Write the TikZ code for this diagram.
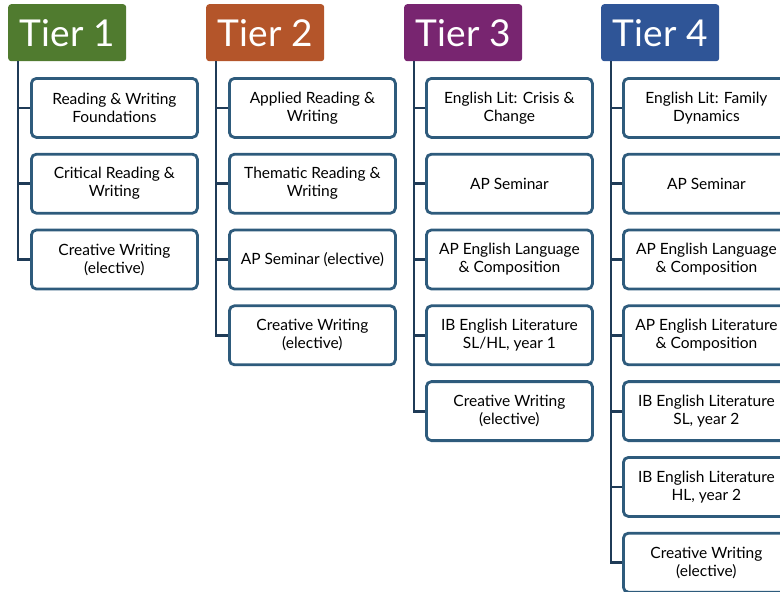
\documentclass[tikz,border=0pt]{standalone}
\usepackage{fontspec}
\setmainfont{Lato}
\usepackage{xcolor}
\definecolor{tgreen}{RGB}{80,123,47}
\definecolor{torange}{RGB}{180,85,42}
\definecolor{tpurple}{RGB}{120,37,112}
\definecolor{tblue}{RGB}{47,85,151}
\definecolor{tline}{RGB}{31,59,87}
\definecolor{tedge}{RGB}{46,91,124}
\usepackage{tikz}
\usetikzlibrary{positioning}
\usetikzlibrary{calc}

\begin{document}
\begin{tikzpicture}[x=1pt, y=-1pt,
    tier/.style={anchor=north west, rounded corners=3pt, minimum width=118pt, minimum height=57pt, text=white, inner sep=0pt, font=\fontsize{37}{40}\selectfont},
    course/.style={draw=tedge, line width=2.8pt, rounded corners=5pt, fill=white, minimum width=166pt, minimum height=59pt, inner sep=0pt, align=center, font=\fontsize{15.5}{18}\selectfont},
    trunk/.style={draw=tline, line width=2.8pt},
    node distance=14pt,
]
\useasboundingbox (0,0) rectangle (780,592);
\clip (0,0) rectangle (780,592);

% tier headers
\node[tier, fill=tgreen] (t1) at (8,4) {Tier 1};
\node[tier, fill=torange] (t2) at (206,4) {Tier 2};
\node[tier, fill=tpurple] (t3) at (404,4) {Tier 3};
\node[tier, fill=tblue] (t4) at (601,4) {Tier 4};

\coordinate (t1x) at ($(t1.south west)+(10,0)$);
\coordinate (t2x) at ($(t2.south west)+(10,0)$);
\coordinate (t3x) at ($(t3.south west)+(10,0)$);
\coordinate (t4x) at ($(t4.south west)+(10,0)$);

% tier 1
\node[course, anchor=north west] (b11) at (30,77) {Reading \& Writing\\Foundations};
\node[course, below=of b11] (b12) {Critical Reading \&\\Writing};
\node[course, below=of b12] (b13) {Creative Writing\\(elective)};

% tier 2
\node[course, anchor=north west] (b21) at (228,77) {Applied Reading \&\\Writing};
\node[course, below=of b21] (b22) {Thematic Reading \&\\Writing};
\node[course, below=of b22] (b23) {AP Seminar (elective)};
\node[course, below=of b23] (b24) {Creative Writing\\(elective)};

% tier 3
\node[course, anchor=north west] (b31) at (425,77) {English Lit: Crisis \&\\Change};
\node[course, below=of b31] (b32) {AP Seminar};
\node[course, below=of b32] (b33) {AP English Language\\\& Composition};
\node[course, below=of b33] (b34) {IB English Literature\\SL/HL, year 1};
\node[course, below=of b34] (b35) {Creative Writing\\(elective)};

% tier 4
\node[course, anchor=north west] (b41) at (622,77) {English Lit: Family\\Dynamics};
\node[course, below=of b41] (b42) {AP Seminar};
\node[course, below=of b42] (b43) {AP English Language\\\& Composition};
\node[course, below=of b43] (b44) {AP English Literature\\\& Composition};
\node[course, below=of b44] (b45) {IB English Literature\\SL, year 2};
\node[course, below=of b45] (b46) {IB English Literature\\HL, year 2};
\node[course, below=of b46] (b47) {Creative Writing\\(elective)};

% trunks and branches
\draw[trunk] (t1x) |- (b13.west);
\draw[trunk] (b11.west) -- (b11.west -| t1x);
\draw[trunk] (b12.west) -- (b12.west -| t1x);

\draw[trunk] (t2x) |- (b24.west);
\draw[trunk] (b21.west) -- (b21.west -| t2x);
\draw[trunk] (b22.west) -- (b22.west -| t2x);
\draw[trunk] (b23.west) -- (b23.west -| t2x);

\draw[trunk] (t3x) |- (b35.west);
\draw[trunk] (b31.west) -- (b31.west -| t3x);
\draw[trunk] (b32.west) -- (b32.west -| t3x);
\draw[trunk] (b33.west) -- (b33.west -| t3x);
\draw[trunk] (b34.west) -- (b34.west -| t3x);

\draw[trunk] (t4x) |- (b47.west);
\draw[trunk] (b41.west) -- (b41.west -| t4x);
\draw[trunk] (b42.west) -- (b42.west -| t4x);
\draw[trunk] (b43.west) -- (b43.west -| t4x);
\draw[trunk] (b44.west) -- (b44.west -| t4x);
\draw[trunk] (b45.west) -- (b45.west -| t4x);
\draw[trunk] (b46.west) -- (b46.west -| t4x);

\end{tikzpicture}
\end{document}
